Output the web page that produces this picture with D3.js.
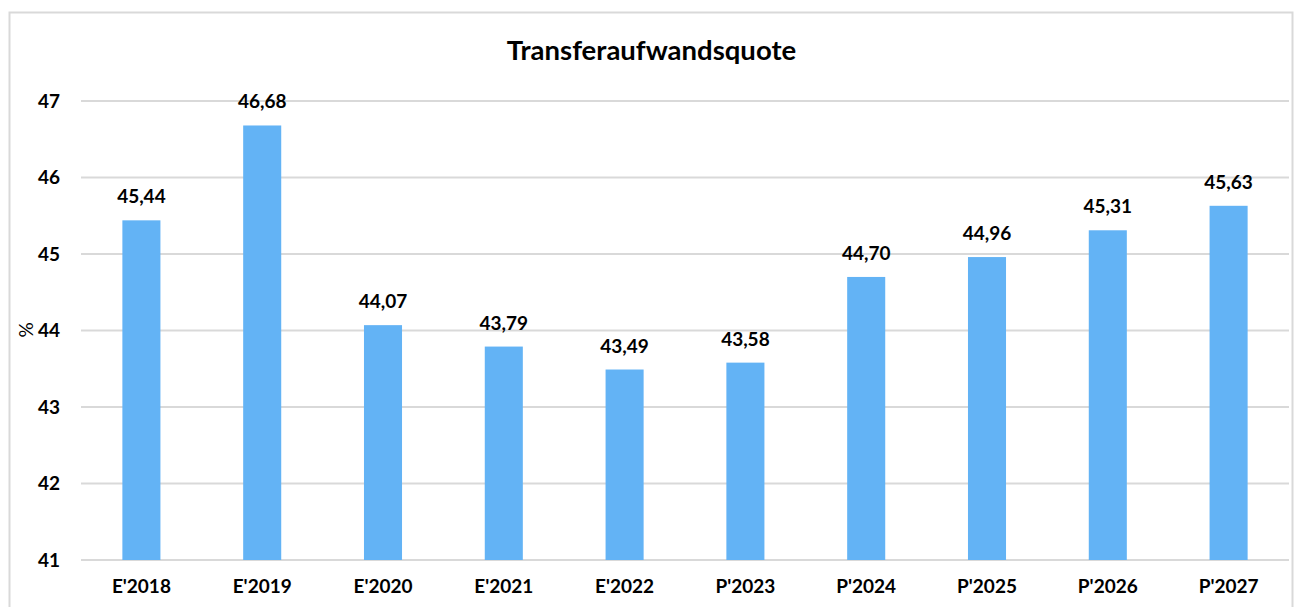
<!DOCTYPE html>
<html><head><meta charset="utf-8">
<script src="https://cdn.jsdelivr.net/npm/d3@7"></script>
<style>body{margin:0;background:#fff}svg{display:block}text{font-family:Lato,"Open Sans",sans-serif}</style>
</head><body><svg id="c" width="1295" height="607"></svg>
<script>
const categories = ["E'2018","E'2019","E'2020","E'2021","E'2022","P'2023","P'2024","P'2025","P'2026","P'2027"];
const values = [45.44,46.68,44.07,43.79,43.49,43.58,44.70,44.96,45.31,45.63];
const yTicks = [41,42,43,44,45,46,47];
const title = "Transferaufwandsquote";
const yLabel = "%";

const svg = d3.select("#c");
const m = {l:81, r:1289, t:101, b:560};
svg.append("rect").attr("x",9.5).attr("y",12.5).attr("width",1283).attr("height",600)
  .attr("fill","#fff").attr("stroke","#d9d9d9").attr("stroke-width",2);

const x = d3.scaleBand().domain(categories).range([m.l,m.r]).paddingInner(0.685).paddingOuter(0.3425);
const y = d3.scaleLinear().domain([41,47]).range([m.b,m.t]);

svg.append("g").selectAll("line").data(yTicks).join("line")
  .attr("x1",m.l).attr("x2",m.r).attr("y1",d=>y(d)).attr("y2",d=>y(d))
  .attr("stroke","#d9d9d9").attr("stroke-width",2);

const yAxis = svg.append("g").attr("transform",`translate(${m.l},0)`)
  .call(d3.axisLeft(y).tickValues(yTicks).tickSize(0).tickPadding(21).tickFormat(d3.format("d")));
yAxis.select(".domain").remove();
yAxis.selectAll("text").attr("font-size",19).attr("font-weight","bold").attr("fill","#000")
  .attr("font-family","Lato,'Open Sans',sans-serif");

svg.append("g").selectAll("rect").data(values).join("rect")
  .attr("x",(d,i)=>x(categories[i])).attr("width",x.bandwidth())
  .attr("y",d=>y(d)).attr("height",d=>y(41)-y(d)).attr("fill","#63b3f5");

svg.append("g").selectAll("text").data(values).join("text")
  .attr("x",(d,i)=>x(categories[i])+x.bandwidth()/2).attr("y",d=>y(d)-17)
  .attr("text-anchor","middle").attr("font-size",19).attr("font-weight","bold")
  .text(d=>d3.format(".2f")(d).replace(".",","));

const xAxis = svg.append("g").attr("transform",`translate(0,${m.b})`)
  .call(d3.axisBottom(x).tickSize(0));
xAxis.select(".domain").remove();
xAxis.selectAll("text").attr("y",33).attr("dy",0).attr("font-size",19).attr("font-weight","bold").attr("fill","#000")
  .attr("font-family","Lato,'Open Sans',sans-serif");

svg.append("text").attr("x",651.5).attr("y",60).attr("text-anchor","middle")
  .attr("font-size",27.5).attr("font-weight","bold").text(title);

svg.append("text").attr("transform","translate(33,330) rotate(-90)").attr("text-anchor","middle")
  .attr("font-size",19).text(yLabel);
</script></body></html>
